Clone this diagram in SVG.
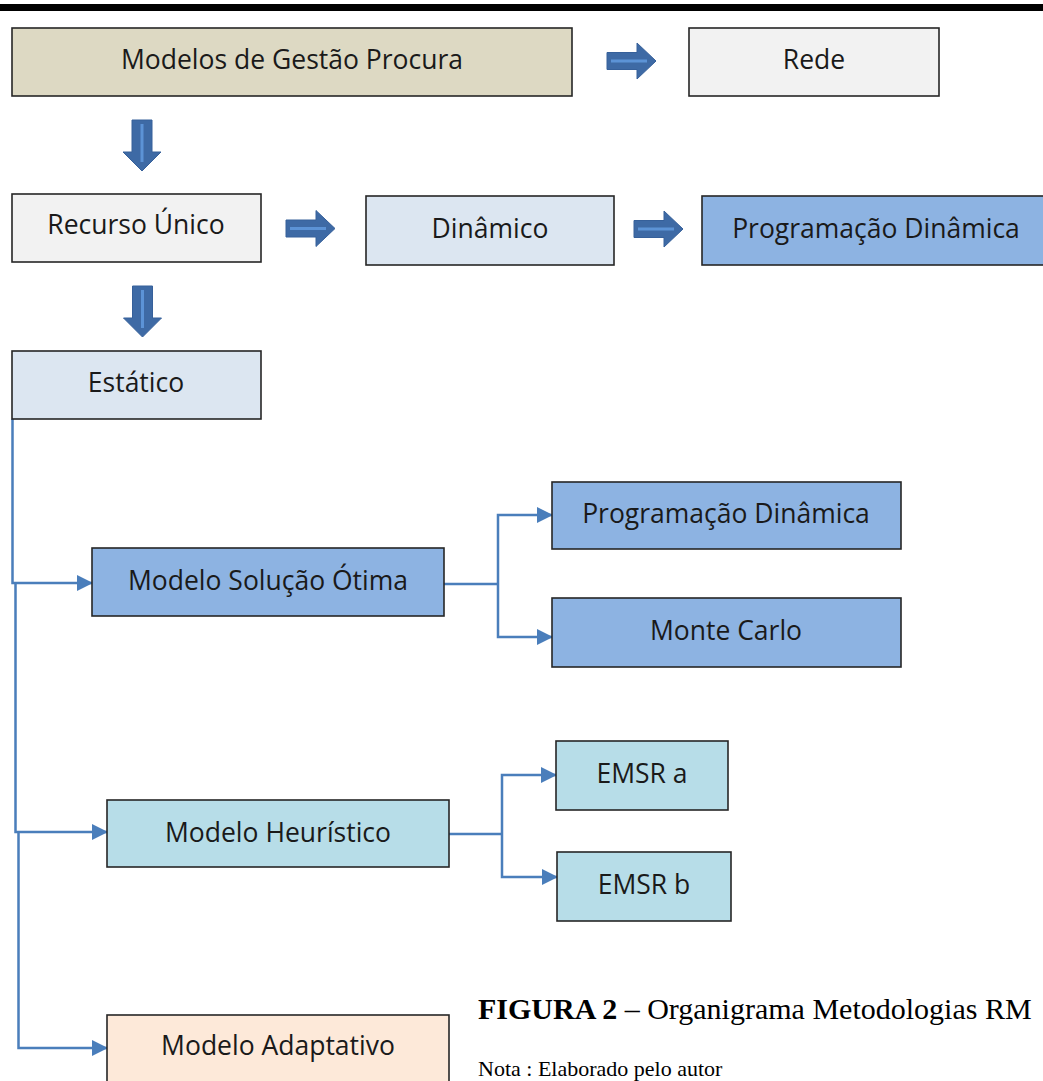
<svg xmlns="http://www.w3.org/2000/svg" width="1043" height="1081" viewBox="0 0 1043 1081">
<style>
.box{stroke:#262626;stroke-width:1.6}
.t{font-family:"Open Sans","Noto Sans","Liberation Sans",sans-serif;font-size:26.5px;fill:#1a1a1a;text-anchor:middle;dominant-baseline:central}
.con{fill:none;stroke:#4a7ebb;stroke-width:2.5}
.blk{fill:#3e6aa5;stroke:#36609a;stroke-width:1}
.hl{stroke:#5c93d6;stroke-width:3;fill:none}
.cap{font-family:"Liberation Serif","Times New Roman",serif;fill:#000}
</style>
<defs>
<marker id="ah" markerUnits="userSpaceOnUse" markerWidth="16" markerHeight="16" refX="15" refY="8" orient="auto">
<path d="M0,0 L16,8 L0,16 Z" fill="#4a7ebb"/>
</marker>
<g id="ra">
<path class="blk" d="M0,-8.5 H30 V-18 L49,0 L30,18 V8.5 H0 Z"/>
<path class="hl" d="M4,0 H40"/>
</g>
<g id="da">
<path class="blk" d="M-10,0 V32 H-19 L0,51 L19,32 H10 V0 Z"/>
<path class="hl" d="M0,4 V42"/>
</g>
</defs>
<rect x="0" y="4" width="1043" height="7" fill="#000"/>
<g id="connectors">
<path class="con" d="M12.5,419 V583 H92" marker-end="url(#ah)"/>
<path class="con" d="M15.5,583 V832 H107" marker-end="url(#ah)"/>
<path class="con" d="M18.5,832 V1048 H107" marker-end="url(#ah)"/>
<path class="con" d="M444,584 H498"/>
<path class="con" d="M498,584 V515 H552" marker-end="url(#ah)"/>
<path class="con" d="M498,584 V637 H552" marker-end="url(#ah)"/>
<path class="con" d="M449,834 H502"/>
<path class="con" d="M502,834 V775 H556" marker-end="url(#ah)"/>
<path class="con" d="M502,834 V877 H557" marker-end="url(#ah)"/>
<use href="#ra" x="607" y="61"/>
<use href="#ra" x="286" y="228.5"/>
<use href="#ra" x="634" y="229"/>
<use href="#da" x="142" y="120"/>
<use href="#da" x="142.5" y="286"/>
</g>
<g id="n-modelos"><rect class="box" x="12" y="28" width="560" height="68" fill="#ddd9c3"/><text class="t" x="292" y="59">Modelos de Gestão Procura</text></g>
<g id="n-rede"><rect class="box" x="689" y="28" width="250" height="68" fill="#f2f2f2"/><text class="t" x="814" y="59">Rede</text></g>
<g id="n-recurso"><rect class="box" x="12" y="194" width="249" height="68" fill="#f2f2f2"/><text class="t" x="136" y="224">Recurso Único</text></g>
<g id="n-dinamico"><rect class="box" x="366" y="196" width="248" height="69" fill="#dce6f1"/><text class="t" x="490" y="228">Dinâmico</text></g>
<g id="n-progdin1"><rect class="box" x="702" y="196" width="350" height="69" fill="#8db3e2"/><text class="t" x="876" y="228">Programação Dinâmica</text></g>
<g id="n-estatico"><rect class="box" x="12" y="351" width="249" height="68" fill="#dce6f1"/><text class="t" x="136" y="382">Estático</text></g>
<g id="n-otima"><rect class="box" x="92" y="548" width="352" height="68" fill="#8db3e2"/><text class="t" x="268" y="580">Modelo Solução Ótima</text></g>
<g id="n-progdin2"><rect class="box" x="552" y="482" width="349" height="67" fill="#8db3e2"/><text class="t" x="726" y="513">Programação Dinâmica</text></g>
<g id="n-monte"><rect class="box" x="552" y="598" width="349" height="69" fill="#8db3e2"/><text class="t" x="726" y="630">Monte Carlo</text></g>
<g id="n-heur"><rect class="box" x="107" y="800" width="342" height="67" fill="#b7dde8"/><text class="t" x="278" y="832">Modelo Heurístico</text></g>
<g id="n-emsra"><rect class="box" x="556" y="741" width="172" height="69" fill="#b7dde8"/><text class="t" x="642" y="773">EMSR a</text></g>
<g id="n-emsrb"><rect class="box" x="557" y="852" width="174" height="69" fill="#b7dde8"/><text class="t" x="644" y="884">EMSR b</text></g>
<g id="n-adapt"><rect class="box" x="107" y="1015" width="342" height="80" fill="#fde9d9"/><text class="t" x="278" y="1045">Modelo Adaptativo</text></g>
<text class="cap" x="478" y="1019" font-size="30"><tspan font-weight="bold">FIGURA 2</tspan> – Organigrama Metodologias RM</text>
<text class="cap" x="478" y="1076" font-size="22">Nota : Elaborado pelo autor</text>
</svg>
